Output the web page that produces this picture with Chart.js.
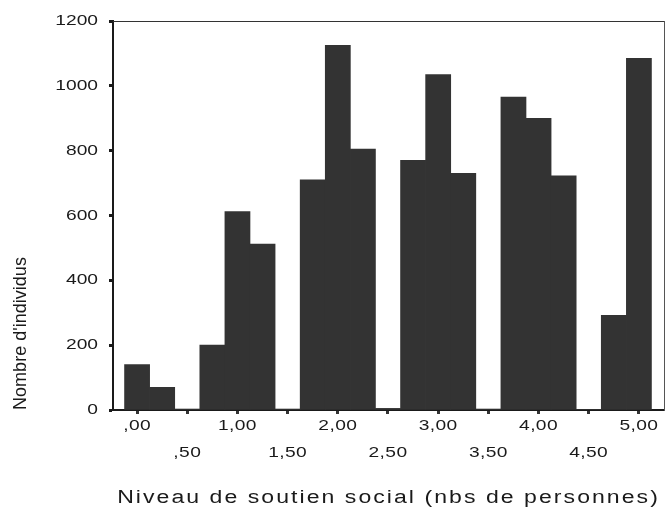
<!DOCTYPE html>
<html>
<head>
<meta charset="utf-8">
<script src="https://cdn.jsdelivr.net/npm/chart.js@4"></script>
<style>
  html, body { margin: 0; padding: 0; background: #fff; }
  #wrap { width: 665px; height: 510px; }
</style>
</head>
<body>
<div id="wrap"><canvas id="chart"></canvas></div>
<script>
// Histogram bins (width 0.25) of the social-support score
const binCenters = [0, 0.25, 0.5, 0.75, 1, 1.25, 1.5, 1.75, 2, 2.25, 2.5,
                    2.75, 3, 3.25, 3.5, 3.75, 4, 4.25, 4.5, 4.75, 5];
// Number of individuals per bin
const counts = [140, 70, 3, 200, 612, 512, 3, 710, 1125, 805, 5,
                770, 1035, 730, 3, 965, 900, 722, 2, 292, 1085];

// Axis ticks
const xTickValues = [0, 0.5, 1, 1.5, 2, 2.5, 3, 3.5, 4, 4.5, 5];
const xTickLabels = [',00', ',50', '1,00', '1,50', '2,00', '2,50', '3,00', '3,50', '4,00', '4,50', '5,00'];
const yTickValues = [0, 200, 400, 600, 800, 1000, 1200];
const yTickLabels = ['0', '200', '400', '600', '800', '1000', '1200'];

const FONT = 'Liberation Sans, Arial, Helvetica, sans-serif';
const INK = '#1a1a1a';

// Wide (horizontally stretched) lettering for the axis texts:
// sx = stretch along the text direction, ls = extra letter spacing
const textStyle = {
  x: { ticks: { sx: 1.28, ls: '0.3px' }, title: { sx: 1.28, ls: '1.6px' } },
  y: { ticks: { sx: 1.28, ls: '0px' },   title: { sx: 0.95, ls: '0px' } }
};

function styledText(fn, st) {
  return function (...args) {
    const ctx = this.ctx;
    ctx.save();
    if ('letterSpacing' in ctx) ctx.letterSpacing = st.ls;
    const fill = ctx.fillText;
    ctx.fillText = function (text, x, y) {
      this.save();
      this.translate(x, y);
      this.scale(st.sx, 1);
      fill.call(this, text, 0, 0);
      this.restore();
    };
    try {
      fn.apply(this, args);
    } finally {
      delete ctx.fillText;
      ctx.restore();
    }
  };
}

const axisTextPlugin = {
  id: 'axisText',
  beforeDraw(chart) {
    Object.entries(textStyle).forEach(([id, st]) => {
      const scale = chart.scales[id];
      if (!scale || scale._styled) return;
      scale.drawLabels = styledText(scale.drawLabels, st.ticks);
      scale.drawTitle = styledText(scale.drawTitle, st.title);
      scale._styled = true;
    });
  }
};

new Chart(document.getElementById('chart'), {
  type: 'bar',
  data: {
    datasets: [{
      data: binCenters.map((x, i) => ({ x: x, y: counts[i] })),
      backgroundColor: '#333333',
      borderWidth: 0,
      barPercentage: 1,
      categoryPercentage: 1
    }]
  },
  options: {
    responsive: true,
    maintainAspectRatio: false,
    animation: false,
    layout: { padding: { top: 21, right: 1, bottom: 0, left: 0 } },
    plugins: {
      legend: { display: false },
      tooltip: { enabled: false }
    },
    scales: {
      x: {
        type: 'linear',
        position: 'bottom',
        offset: false,
        min: -0.24,
        max: 5.25,
        afterBuildTicks(scale) {
          scale.ticks = xTickValues.map(v => ({ value: v }));
        },
        afterFit(scale) {
          scale.height = 100;
          scale.paddingLeft = 0;
          scale.paddingRight = 0;
        },
        grid: {
          offset: false,
          drawOnChartArea: false,
          drawTicks: true,
          tickLength: 4,
          tickWidth: 3,
          tickColor: '#333'
        },
        border: { display: true, width: 2, color: INK },
        ticks: {
          autoSkip: false,
          maxRotation: 0,
          minRotation: 0,
          padding: -2,
          color: INK,
          font: { family: FONT, size: 15, lineHeight: '27px' },
          callback(value, index) {
            const label = xTickLabels[index];
            return index % 2 === 0 ? label : ['', label];
          }
        },
        title: {
          display: true,
          text: 'Niveau de soutien social (nbs de personnes)',
          color: INK,
          font: { family: FONT, size: 18 },
          padding: { top: 0, bottom: 1 }
        }
      },
      y: {
        type: 'linear',
        position: 'left',
        min: 0,
        max: 1200,
        afterBuildTicks(scale) {
          scale.ticks = yTickValues.map(v => ({ value: v }));
        },
        afterFit(scale) {
          scale.width = 113;
          scale.paddingTop = 0;
          scale.paddingBottom = 0;
        },
        grid: {
          drawOnChartArea: false,
          drawTicks: true,
          tickLength: 4,
          tickWidth: 3,
          tickColor: INK
        },
        border: { display: true, width: 2, color: INK },
        ticks: {
          padding: 11,
          color: INK,
          font: { family: FONT, size: 15 },
          callback(value, index) {
            return yTickLabels[index];
          }
        },
        title: {
          display: true,
          text: "Nombre d'individus",
          align: 'start',
          color: INK,
          font: { family: FONT, size: 19 },
          padding: { top: 9, bottom: 0 }
        }
      },
      xTop: {
        type: 'linear',
        position: 'top',
        ticks: { display: false },
        grid: { display: false, drawTicks: false },
        border: { display: true, width: 1, color: '#333' },
        afterFit(scale) { scale.height = 0; }
      },
      yRight: {
        type: 'linear',
        position: 'right',
        ticks: { display: false },
        grid: { display: false, drawTicks: false },
        border: { display: true, width: 1, color: '#555' },
        afterFit(scale) { scale.width = 0; }
      }
    }
  },
  plugins: [axisTextPlugin]
});
</script>
</body>
</html>
